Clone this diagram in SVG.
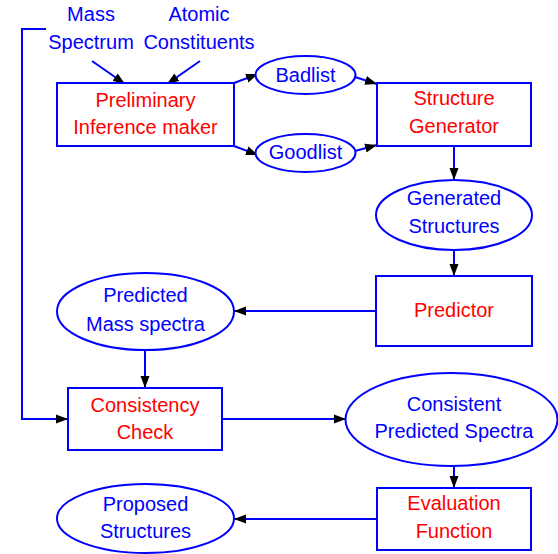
<svg xmlns="http://www.w3.org/2000/svg" width="558" height="554" viewBox="0 0 558 554">
<style>
.n{fill:#fff;stroke:#0000ff;stroke-width:2}
.c{fill:none;stroke:#0000ff;stroke-width:2}
text{font-family:"Liberation Sans",Arial,sans-serif;font-size:20px;text-anchor:middle}
.r{fill:#ff0000}
.b{fill:#0000ff}
</style>
<defs>
<marker id="ah" markerUnits="userSpaceOnUse" markerWidth="14" markerHeight="10" refX="12" refY="5" orient="auto">
<path d="M0,0.5 L12,5 L0,9.5 z" fill="#000"/>
</marker>
</defs>
<rect width="558" height="554" fill="#fff"/>
<g id="connectors">
<line class="c" x1="92" y1="61" x2="125" y2="84" marker-end="url(#ah)"/>
<line class="c" x1="200" y1="61" x2="167" y2="84" marker-end="url(#ah)"/>
<line class="c" x1="234" y1="83" x2="258" y2="74" marker-end="url(#ah)"/>
<line class="c" x1="234" y1="146" x2="258" y2="155" marker-end="url(#ah)"/>
<line class="c" x1="355" y1="77" x2="377" y2="84" marker-end="url(#ah)"/>
<line class="c" x1="355" y1="151" x2="377" y2="145" marker-end="url(#ah)"/>
<line class="c" x1="454" y1="146" x2="454" y2="180" marker-end="url(#ah)"/>
<line class="c" x1="454" y1="250" x2="454" y2="276" marker-end="url(#ah)"/>
<line class="c" x1="376" y1="311" x2="234" y2="311" marker-end="url(#ah)"/>
<line class="c" x1="145" y1="350" x2="145" y2="388" marker-end="url(#ah)"/>
<polyline class="c" points="46,29 22,29 22,419 68,419" marker-end="url(#ah)"/>
<line class="c" x1="222" y1="419" x2="346" y2="419" marker-end="url(#ah)"/>
<line class="c" x1="454" y1="466" x2="454" y2="488" marker-end="url(#ah)"/>
<line class="c" x1="377" y1="519" x2="234" y2="519" marker-end="url(#ah)"/>
</g>
<g id="mass-spectrum">
<text class="b" x="91" y="21">Mass</text>
<text class="b" x="91" y="49">Spectrum</text>
</g>
<g id="atomic-constituents">
<text class="b" x="199" y="21">Atomic</text>
<text class="b" x="199" y="49">Constituents</text>
</g>
<g id="preliminary">
<rect class="n" x="57" y="83" width="177" height="63"/>
<text class="r" x="145.5" y="107">Preliminary</text>
<text class="r" x="145.5" y="134">Inference maker</text>
</g>
<g id="badlist">
<ellipse class="n" cx="305.5" cy="75" rx="50" ry="19"/>
<text class="b" x="305.5" y="82">Badlist</text>
</g>
<g id="goodlist">
<ellipse class="n" cx="305.5" cy="153" rx="50" ry="19"/>
<text class="b" x="305.5" y="159">Goodlist</text>
</g>
<g id="structure-generator">
<rect class="n" x="377" y="83" width="154" height="63"/>
<text class="r" x="454" y="105">Structure</text>
<text class="r" x="454" y="133">Generator</text>
</g>
<g id="generated-structures">
<ellipse class="n" cx="454" cy="215" rx="78" ry="35"/>
<text class="b" x="454" y="205">Generated</text>
<text class="b" x="454" y="233">Structures</text>
</g>
<g id="predictor">
<rect class="n" x="376" y="276" width="156" height="70"/>
<text class="r" x="454" y="317">Predictor</text>
</g>
<g id="predicted-mass-spectra">
<ellipse class="n" cx="145.5" cy="311.5" rx="88.5" ry="38.5"/>
<text class="b" x="145.5" y="302">Predicted</text>
<text class="b" x="145.5" y="331">Mass spectra</text>
</g>
<g id="consistency-check">
<rect class="n" x="68" y="388" width="154" height="62"/>
<text class="r" x="145" y="412">Consistency</text>
<text class="r" x="145" y="439">Check</text>
</g>
<g id="consistent-predicted-spectra">
<ellipse class="n" cx="451.5" cy="419.5" rx="106" ry="46.5"/>
<text class="b" x="454" y="411">Consistent</text>
<text class="b" x="454" y="438">Predicted Spectra</text>
</g>
<g id="evaluation-function">
<rect class="n" x="377" y="488" width="154" height="62"/>
<text class="r" x="454" y="510">Evaluation</text>
<text class="r" x="454" y="538">Function</text>
</g>
<g id="proposed-structures">
<ellipse class="n" cx="145.5" cy="518.5" rx="88.5" ry="34.5"/>
<text class="b" x="145.5" y="511">Proposed</text>
<text class="b" x="145.5" y="538">Structures</text>
</g>
</svg>
